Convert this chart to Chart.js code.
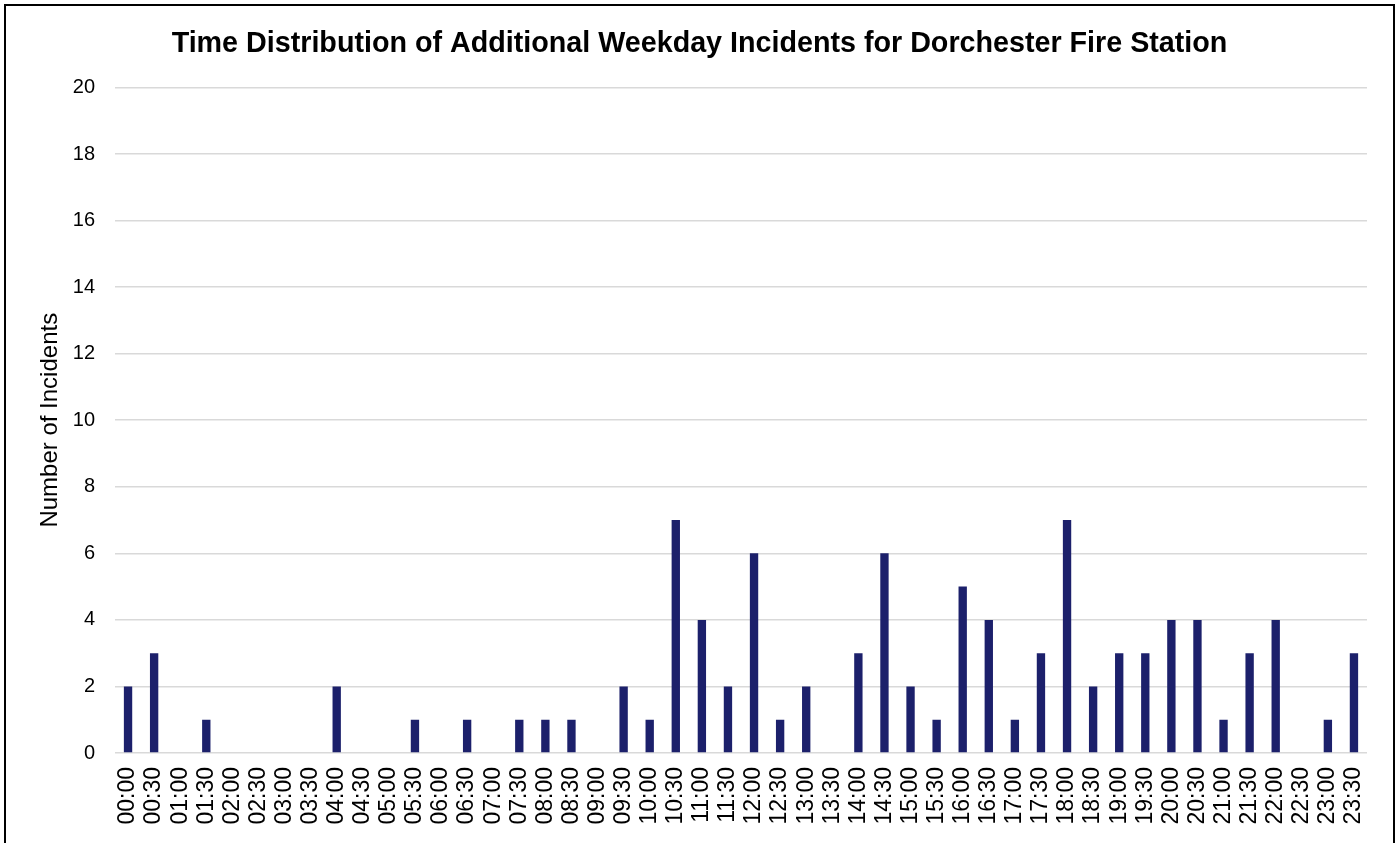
<!DOCTYPE html>
<html>
<head>
<meta charset="utf-8">
<script src="https://cdn.jsdelivr.net/npm/chart.js@4/dist/chart.umd.min.js"></script>
<style>
  html, body { margin: 0; padding: 0; background: #fff; overflow: hidden; }
  #frame { position: absolute; left: 4px; top: 4px; width: 1387px; height: 845px;
           border: 2px solid #000; border-bottom: none; background: #fff; }
  #c { display: block; }
</style>
</head>
<body>
<div id="frame"><canvas id="c" width="1387" height="845"></canvas></div>
<script>
const categories = ["00:00","00:30","01:00","01:30","02:00","02:30","03:00","03:30",
  "04:00","04:30","05:00","05:30","06:00","06:30","07:00","07:30","08:00","08:30",
  "09:00","09:30","10:00","10:30","11:00","11:30","12:00","12:30","13:00","13:30",
  "14:00","14:30","15:00","15:30","16:00","16:30","17:00","17:30","18:00","18:30",
  "19:00","19:30","20:00","20:30","21:00","21:30","22:00","22:30","23:00","23:30"];
const incidents = [2,3,0,1,0,0,0,0,
  2,0,0,1,0,1,0,1,1,1,
  0,2,1,7,4,2,6,1,2,0,
  3,6,2,1,5,4,1,3,7,2,
  3,3,4,4,1,3,4,0,1,3];
const yTicks = [0,2,4,6,8,10,12,14,16,18,20];
const chartTitle = "Time Distribution of Additional Weekday Incidents for Dorchester Fire Station";
const yTitle = "Number of Incidents";

const FONT = "'Liberation Sans', Arial, Helvetica, sans-serif";

new Chart(document.getElementById('c'), {
  type: 'bar',
  data: {
    labels: categories,
    datasets: [{
      data: incidents,
      backgroundColor: '#1c206b',
      borderColor: '#1c206b',
      borderWidth: 0,
      barPercentage: 0.32,
      categoryPercentage: 1.0
    }]
  },
  options: {
    responsive: false,
    animation: false,
    layout: { padding: { left: 0, right: 0, top: 0, bottom: 0 } },
    plugins: {
      legend: { display: false },
      tooltip: { enabled: false },
      title: {
        display: true,
        text: chartTitle,
        color: '#000',
        font: { family: FONT, size: 28.7, weight: 'bold' },
        padding: { top: 21, bottom: 26 }
      }
    },
    scales: {
      x: {
        grid: { display: false, drawTicks: false },
        border: { display: false },
        ticks: {
          color: '#000',
          font: { family: FONT, size: 23, lineHeight: 1 },
          minRotation: 90, maxRotation: 90,
          autoSkip: false,
          padding: 14
        },
        afterFit: (scale) => { scale.height = 98; }
      },
      y: {
        min: 0, max: 20,
        afterBuildTicks: (scale) => { scale.ticks = yTicks.map(v => ({ value: v })); },
        grid: { color: '#d9d9d9', lineWidth: 1.5, drawTicks: false },
        border: { display: false },
        ticks: {
          color: '#000',
          font: { family: FONT, size: 20 },
          padding: 20
        },
        title: {
          display: true,
          text: yTitle,
          color: '#000',
          font: { family: FONT, size: 24 },
          padding: { top: 30, bottom: 0 }
        },
        afterFit: (scale) => { scale.width = 109; }
      },
      yRightGap: {
        position: 'right',
        display: true,
        grid: { display: false, drawTicks: false },
        border: { display: false },
        ticks: { display: false },
        afterFit: (scale) => { scale.width = 26; }
      }
    }
  }
});
</script>
</body>
</html>
